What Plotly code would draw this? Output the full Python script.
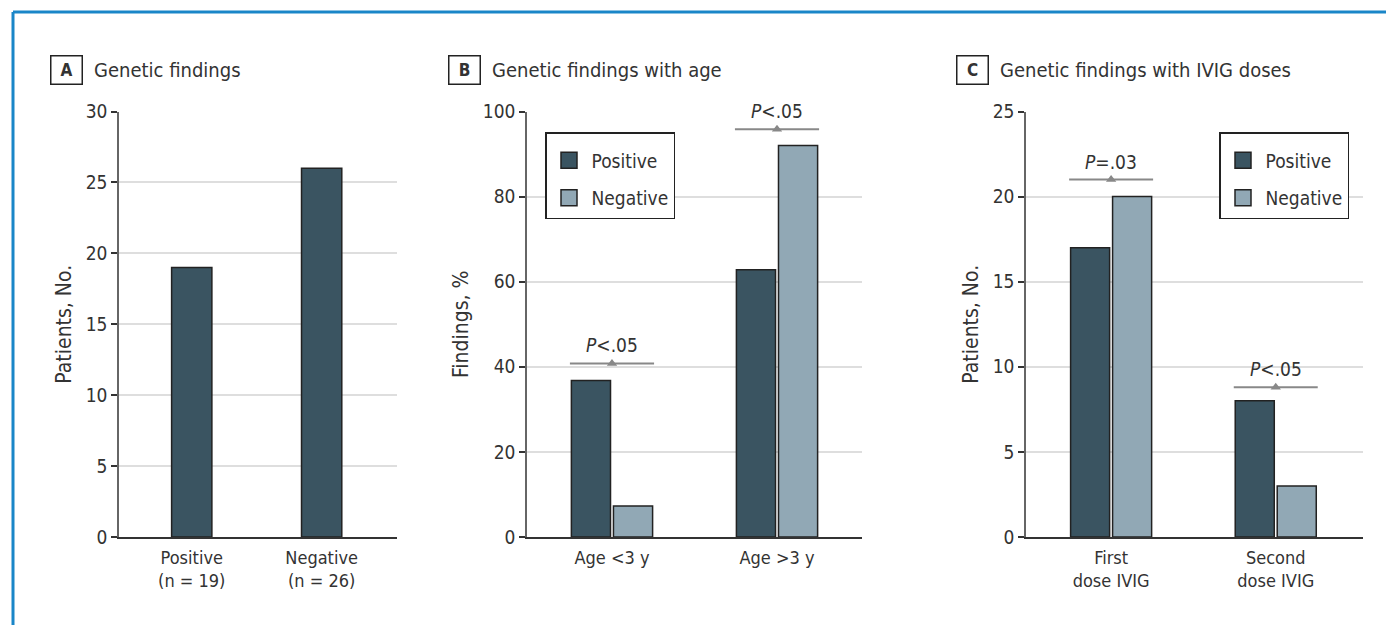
import plotly.graph_objects as go

# page body has an 8px default margin, so the figure starts at (8, 8) in the window
OFF = 8
W, H = 1394 - OFF, 625 - OFF

# ---------------- data ----------------
a_categories = ["Positive<br>(n = 19)", "Negative<br>(n = 26)"]
a_values = [19, 26]

b_categories = ["Age &lt;3 y", "Age &gt;3 y"]
b_positive = [36.8, 62.8]
b_negative = [7.3, 92.0]
b_p_text = ["<i>P</i>&lt;.05", "<i>P</i>&lt;.05"]
b_p_level = [40.8, 95.8]

c_categories = ["First<br>dose IVIG", "Second<br>dose IVIG"]
c_positive = [17, 8]
c_negative = [20, 3]
c_p_text = ["<i>P</i>=.03", "<i>P</i>&lt;.05"]
c_p_level = [21.0, 8.8]

panel_letters = ["A", "B", "C"]
panel_titles = ["Genetic findings", "Genetic findings with age", "Genetic findings with IVIG doses"]
y_titles = ["Patients, No.", "Findings, %", "Patients, No."]
y_ranges = [[0, 30], [0, 100], [0, 25]]
y_dticks = [5, 20, 5]

# ---------------- style ----------------
FONT = "Liberation Sans Narrow, DejaVu Sans Condensed, Arial Narrow, sans-serif"
TXT = "#333333"
POS = "#3a5461"
NEG = "#91a8b5"
EDGE = "#222222"
GRID = "#dedede"

def px(x):
    return (x - OFF) / W

def py(y):
    return 1 - (y - OFF) / H

y_dom = [py(537), py(111.5)]
x_doms = [[px(119), px(397)], [px(527), px(862)], [px(1026), px(1363)]]
x_ranges = [[-0.56, 1.58], [-0.515, 1.515], [-0.517, 1.53]]
letter_x = [66, 464, 972]
title_x = [92, 490, 998]

fig = go.Figure()

# Panel A
fig.add_trace(go.Bar(x=[0, 1], y=a_values, width=0.31, offset=-0.155,
                     marker=dict(color=POS, line=dict(color=EDGE, width=1.5)),
                     showlegend=False, xaxis="x", yaxis="y"))

# Panel B
fig.add_trace(go.Bar(x=[0, 1], y=b_positive, name="Positive",
                     marker=dict(color=POS, line=dict(color=EDGE, width=1.5)),
                     showlegend=False, xaxis="x2", yaxis="y2"))
fig.add_trace(go.Bar(x=[0, 1], y=b_negative, name="Negative",
                     marker=dict(color=NEG, line=dict(color=EDGE, width=1.5)),
                     showlegend=False, xaxis="x2", yaxis="y2"))

# Panel C
fig.add_trace(go.Bar(x=[0, 1], y=c_positive, name="Positive",
                     marker=dict(color=POS, line=dict(color=EDGE, width=1.5)),
                     showlegend=False, xaxis="x3", yaxis="y3"))
fig.add_trace(go.Bar(x=[0, 1], y=c_negative, name="Negative",
                     marker=dict(color=NEG, line=dict(color=EDGE, width=1.5)),
                     showlegend=False, xaxis="x3", yaxis="y3"))

# legend proxies
for leg, xa, ya in [("legend", "x2", "y2"), ("legend2", "x3", "y3")]:
    for nm, col in [("Positive", POS), ("Negative", NEG)]:
        fig.add_trace(go.Scatter(x=[None], y=[None], mode="markers", name=nm,
                                 legend=leg, legendgroup=leg + nm,
                                 marker=dict(symbol="square", size=22, color=col,
                                             line=dict(color=EDGE, width=1.5)),
                                 xaxis=xa, yaxis=ya, showlegend=True))

# P-value brackets
half = 0.255
shapes = []
annotations = []
for xa, ya, levels, texts in [("x2", "y2", b_p_level, b_p_text), ("x3", "y3", c_p_level, c_p_text)]:
    for i, (lv, tx) in enumerate(zip(levels, texts)):
        shapes.append(dict(type="line", xref=xa, yref=ya, x0=i - half, x1=i + half, y0=lv, y1=lv,
                           line=dict(color="#888888", width=2)))
        annotations.append(dict(xref=xa, yref=ya, x=i, y=lv, text=tx, showarrow=False,
                                yanchor="bottom", yshift=5,
                                font=dict(family=FONT, size=19, color=TXT)))
    fig.add_trace(go.Scatter(x=[0, 1], y=levels, mode="markers", showlegend=False,
                             marker=dict(symbol="triangle-up", size=9, color="#888888"),
                             xaxis=xa, yaxis=ya, hoverinfo="skip"))

# Panel titles
for i in range(3):
    annotations.append(dict(xref="paper", yref="paper", x=px(letter_x[i]), y=py(69.5),
                            text="<b>" + panel_letters[i] + "</b>", showarrow=False,
                            xanchor="center", yanchor="middle", width=24, height=21,
                            borderpad=3, bordercolor=EDGE, borderwidth=1.5,
                            font=dict(family=FONT, size=17, color=TXT)))
    annotations.append(dict(xref="paper", yref="paper", x=px(title_x[i]), y=py(69.5),
                            text=panel_titles[i], showarrow=False,
                            xanchor="left", yanchor="middle",
                            font=dict(family=FONT, size=20, color=TXT)))

# blue frame
shapes.append(dict(type="line", xref="paper", yref="paper", x0=px(13), x1=1.01, y0=py(12), y1=py(12),
                   line=dict(color="#1a86c8", width=3)))
shapes.append(dict(type="line", xref="paper", yref="paper", x0=px(13), x1=px(13), y0=py(12), y1=-0.01,
                   line=dict(color="#1a86c8", width=3)))

legend_style = dict(yanchor="top", xanchor="left", bgcolor="white", bordercolor=EDGE, borderwidth=1.5,
                    font=dict(family=FONT, size=19, color=TXT),
                    title=dict(text="&nbsp;", font=dict(size=6)),
                    tracegroupgap=10, itemwidth=35, itemsizing="trace")

tick_texts = [a_categories, b_categories, c_categories]
layout = dict(
    width=W, height=H, margin=dict(l=0, r=0, t=0, b=0),
    paper_bgcolor="white", plot_bgcolor="white",
    barmode="group", bargap=0.49, bargroupgap=0.07,
    font=dict(family=FONT, size=17, color=TXT),
    shapes=shapes, annotations=annotations,
    legend=dict(x=px(545), y=py(132), **legend_style),
    legend2=dict(x=px(1219), y=py(132), **legend_style),
)
for i in range(3):
    sx = "" if i == 0 else str(i + 1)
    layout["xaxis" + sx] = dict(
        domain=x_doms[i], anchor="y" + sx, range=x_ranges[i],
        tickvals=[0, 1], ticktext=tick_texts[i], ticks="", ticklabelstandoff=3,
        showline=True, linecolor="#333333", linewidth=2, showgrid=False, zeroline=False,
        tickfont=dict(family=FONT, size=18, color=TXT), automargin=False, fixedrange=True)
    layout["yaxis" + sx] = dict(
        domain=y_dom, anchor="x" + sx, range=y_ranges[i], dtick=y_dticks[i],
        ticks="outside", ticklen=6, tickwidth=1.5, tickcolor="#333333",
        showline=True, linecolor="#666666", linewidth=1.5,
        showgrid=True, gridcolor=GRID, gridwidth=1.5, zeroline=False,
        tickfont=dict(family=FONT, size=19, color=TXT),
        title=dict(text=y_titles[i], standoff=8, font=dict(family=FONT, size=21, color=TXT)),
        automargin=False, fixedrange=True)

fig.update_layout(**layout)
fig.write_html("out.html")
